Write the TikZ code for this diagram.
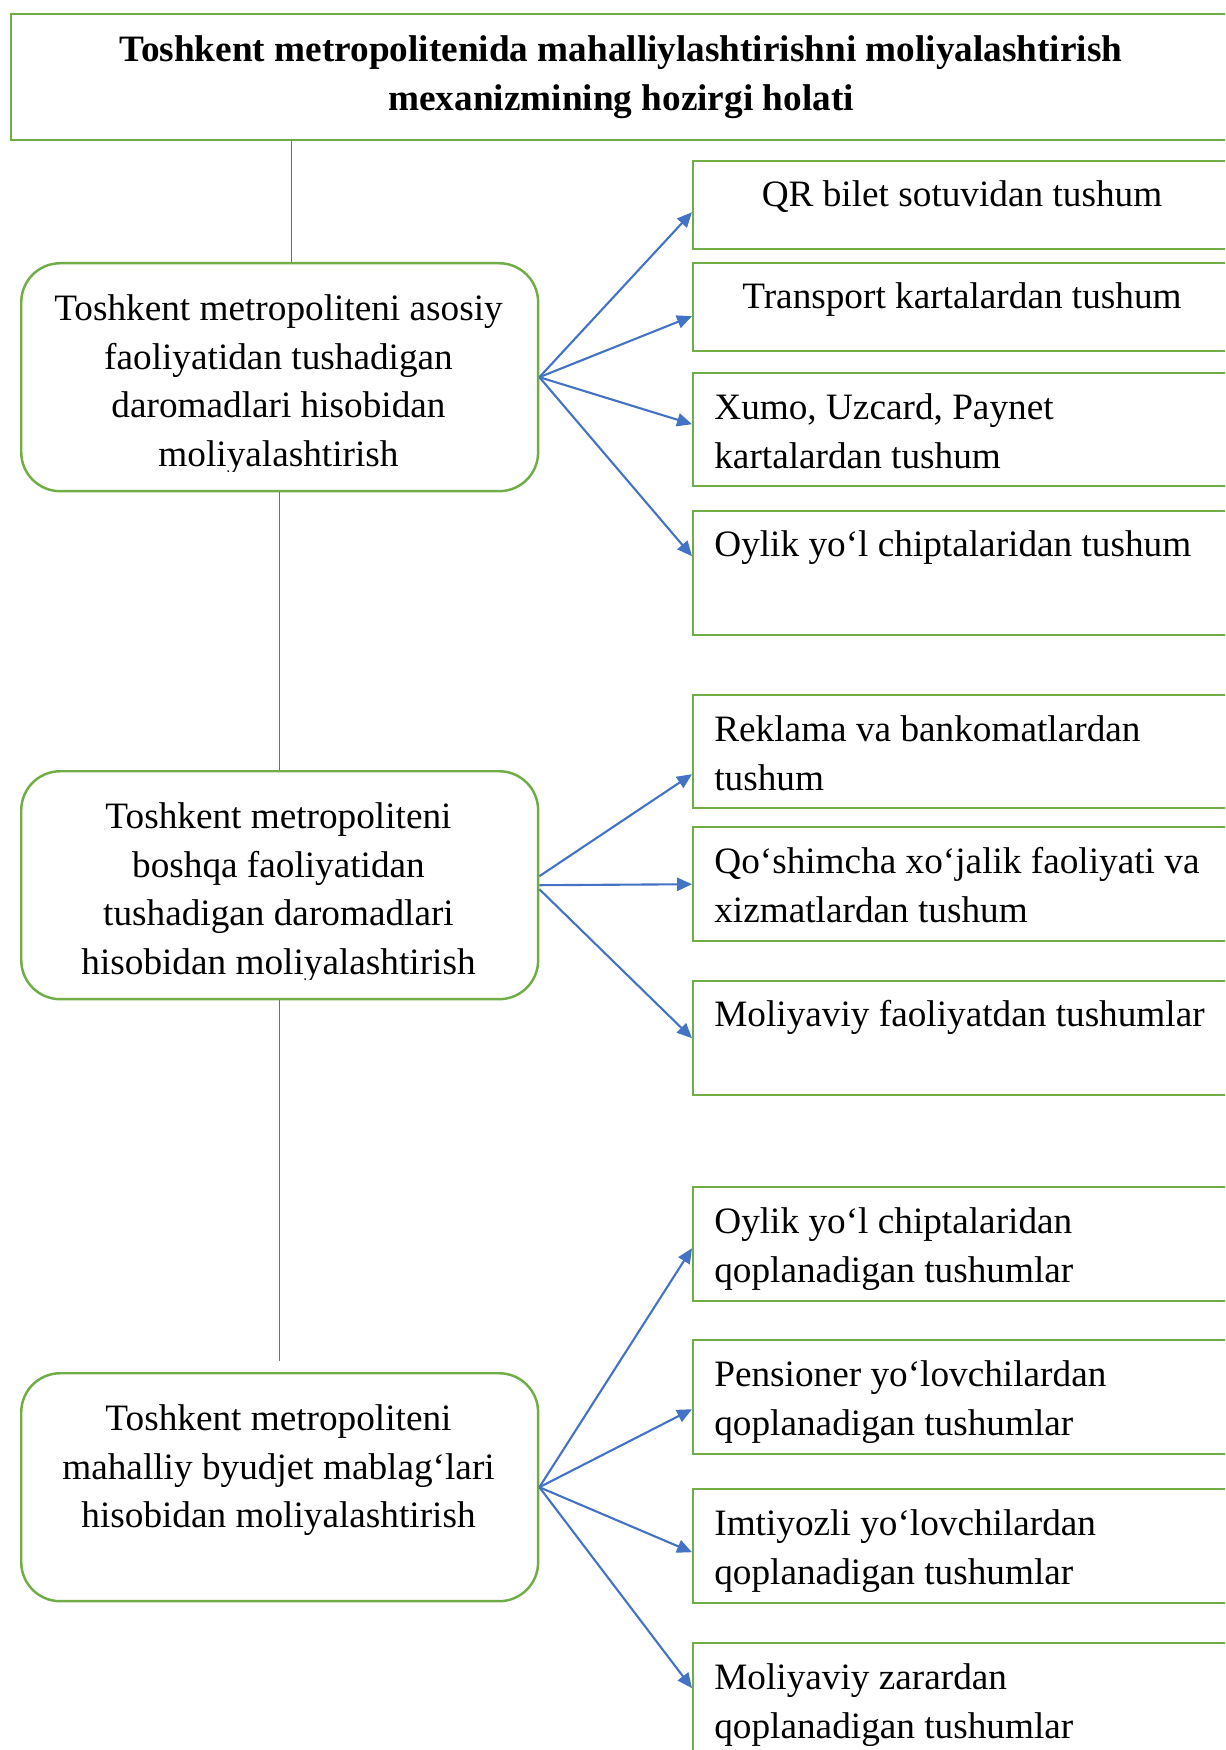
\documentclass[tikz,border=0pt]{standalone}
\usepackage{fontspec}
\setmainfont{Liberation Serif}
\usepackage{tikz}
\usetikzlibrary{arrows.meta}
\definecolor{boxgreen}{HTML}{70AD47}
\definecolor{linkblue}{HTML}{4472C4}
\tikzset{>={Triangle[length=8.5pt,width=7.5pt]}}

\begin{document}
\begin{tikzpicture}[x=0.02cm, y=-0.02cm,
              mainbox/.style={draw=boxgreen, line width=1.4pt, rounded corners=0.78cm, minimum width=10.34cm, minimum height=4.56cm, inner sep=0pt, anchor=north west},
              itembox/.style={draw=boxgreen, line width=1.4pt, minimum width=10.8cm, inner sep=0pt, anchor=north west},
              boxtext/.style={inner sep=0pt, font=\fontsize{21.2}{27.8}\selectfont, execute at begin node=\strut},
              link/.style={linkblue, line width=0.6pt},
              branch/.style={linkblue, line width=1.2pt, ->},
             ]
\useasboundingbox (0,0) rectangle (1225,1750);
\clip (0,0) rectangle (1225,1750);
\node[itembox, minimum width=24.44cm, minimum height=2.52cm] (title) at (10,13) {};
\node[boxtext, font=\fontsize{21.2}{28.3}\selectfont\bfseries, align=center, anchor=north] (titletxt) at (621,35) {Toshkent metropolitenida mahalliylashtirishni moliyalashtirish\\mexanizmining hozirgi holati};

\node[mainbox] (main1) at (20,262) {};
\node[mainbox] (main2) at (20,770) {};
\node[mainbox] (main3) at (20,1372) {};
\begin{scope}
\clip (20,262) rectangle (537,471);
\node[boxtext, align=center, anchor=north] (main1txt) at (278.5,294) {Toshkent metropoliteni asosiy\\faoliyatidan tushadigan\\daromadlari hisobidan\\moliyalashtirish};
\end{scope}
\begin{scope}
\clip (20,770) rectangle (537,979);
\node[boxtext, align=center, anchor=north] (main2txt) at (278.5,802) {Toshkent metropoliteni\\boshqa faoliyatidan\\tushadigan daromadlari\\hisobidan moliyalashtirish};
\end{scope}
\node[boxtext, align=center, anchor=north] (main3txt) at (278.5,1404) {Toshkent metropoliteni\\mahalliy byudjet mablag‘lari\\hisobidan moliyalashtirish};

\node[itembox, minimum height=1.76cm] (r1) at (692,160) {};
\node[itembox, minimum height=1.76cm] (r2) at (692,262) {};
\node[itembox, minimum height=2.26cm] (r3) at (692,372) {};
\node[itembox, minimum height=2.48cm] (r4) at (692,510) {};
\node[itembox, minimum height=2.26cm] (r5) at (692,694) {};
\node[itembox, minimum height=2.28cm] (r6) at (692,826) {};
\node[itembox, minimum height=2.28cm] (r7) at (692,980) {};
\node[itembox, minimum height=2.28cm] (r8) at (692,1186) {};
\node[itembox, minimum height=2.28cm] (r9) at (692,1339) {};
\node[itembox, minimum height=2.28cm] (r10) at (692,1488) {};
\node[itembox, minimum height=2.28cm] (r11) at (692,1642) {};

\node[boxtext, anchor=north] (r1txt) at (962,172) {QR bilet sotuvidan tushum};
\node[boxtext, anchor=north] (r2txt) at (962,274) {Transport kartalardan tushum};
\node[boxtext, align=left, anchor=north west] (r3txt) at (714,393) {Xumo, Uzcard, Paynet\\kartalardan tushum};
\node[boxtext, align=left, anchor=north west] (r4txt) at (714,522) {Oylik yo‘l chiptalaridan tushum};
\node[boxtext, align=left, anchor=north west] (r5txt) at (714,715) {Reklama va bankomatlardan\\tushum};
\node[boxtext, align=left, anchor=north west] (r6txt) at (714,847) {Qo‘shimcha xo‘jalik faoliyati va\\xizmatlardan tushum};
\node[boxtext, align=left, anchor=north west] (r7txt) at (714,992) {Moliyaviy faoliyatdan tushumlar};
\node[boxtext, align=left, anchor=north west] (r8txt) at (714,1207) {Oylik yo‘l chiptalaridan\\qoplanadigan tushumlar};
\node[boxtext, align=left, anchor=north west] (r9txt) at (714,1360) {Pensioner yo‘lovchilardan\\qoplanadigan tushumlar};
\node[boxtext, align=left, anchor=north west] (r10txt) at (714,1509) {Imtiyozli yo‘lovchilardan\\qoplanadigan tushumlar};
\node[boxtext, align=left, anchor=north west] (r11txt) at (714,1663) {Moliyaviy zarardan\\qoplanadigan tushumlar};

\draw[link] ([xshift=0.23cm]main1.north |- title.south) -- ([xshift=0.23cm]main1.north);
\draw[link] (main1.south) -- (main2.north);
\draw[link] (main2.south) -- ([yshift=0.22cm]main3.north);

\draw[branch] (main1.east) -- ([yshift=-0.14cm]r1.west);
\draw[branch] (main1.east) -- ([yshift=-0.18cm]r2.west);
\draw[branch] (main1.east) -- ([yshift=0.11cm]r3.west);
\draw[branch] (main1.east) -- ([yshift=0.34cm]r4.west);
\draw[branch] ([yshift=0.18cm]main2.east) -- ([yshift=-0.45cm]r5.west);
\draw[branch] (main2.east) -- (r6.west);
\draw[branch] ([yshift=-0.08cm]main2.east) -- (r7.west);
\draw[branch] (main3.east) -- ([yshift=-0.08cm]r8.west);
\draw[branch] (main3.east) -- ([yshift=-0.24cm]r9.west);
\draw[branch] (main3.east) -- ([yshift=-0.12cm]r10.west);
\draw[branch] (main3.east) -- ([yshift=0.24cm]r11.west);
\end{tikzpicture}
\end{document}
